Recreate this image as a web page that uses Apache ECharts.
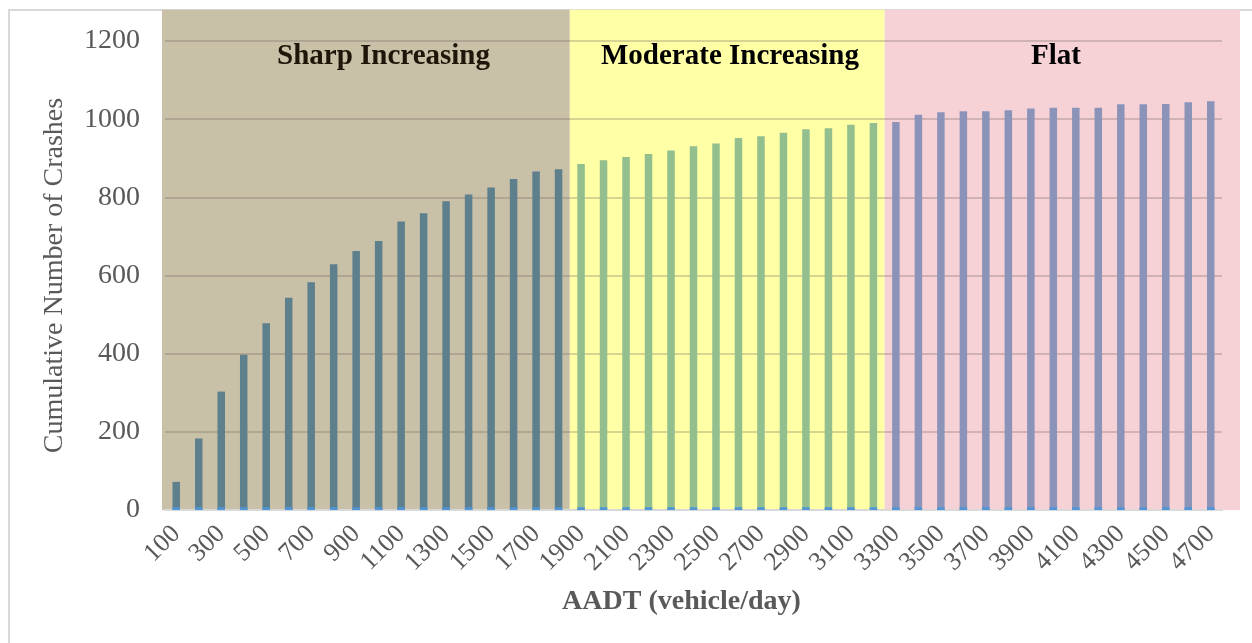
<!DOCTYPE html>
<html>
<head>
<meta charset="utf-8">
<script src="https://cdn.jsdelivr.net/npm/echarts@6/dist/echarts.min.js"></script>
<style>
  html, body { margin: 0; padding: 0; background: #fff; }
  #chart { width: 1252px; height: 643px; }
</style>
</head>
<body>
<div id="chart"></div>
<script>
const categories = ['100', '200', '300', '400', '500', '600', '700', '800', '900', '1000',
  '1100', '1200', '1300', '1400', '1500', '1600', '1700', '1800', '1900', '2000',
  '2100', '2200', '2300', '2400', '2500', '2600', '2700', '2800', '2900', '3000',
  '3100', '3200', '3300', '3400', '3500', '3600', '3700', '3800', '3900', '4000',
  '4100', '4200', '4300', '4400', '4500', '4600', '4700'];

const sharpValues = [72, 183, 303, 397, 478, 543, 583, 629, 663, 688, 738, 759, 790, 807, 825, 847, 866, 872];
const moderateValues = [885, 895, 903, 911, 920, 931, 938, 952, 956, 965, 974, 977, 986, 990];
const flatValues = [993, 1011, 1018, 1020, 1020, 1023, 1027, 1029, 1029, 1029, 1038, 1038, 1039, 1043, 1046];
// small blue stub visible at the foot of every bar
const baseStub = [7, 7, 7, 7, 7, 7, 7, 7, 7, 7, 7, 7, 7, 7, 7, 7, 7, 7, 7, 7, 7, 7, 7, 7,
  7, 7, 7, 7, 7, 7, 7, 7, 7, 7, 7, 7, 7, 7, 7, 7, 7, 7, 7, 7, 7, 7, 7];

const regionNames = ['Sharp Increasing', 'Moderate Increasing', 'Flat'];
const yTicks = [0, 200, 400, 600, 800, 1000, 1200];

const regionFill = ['#c9c0a8', '#ffffa6', '#f6d2d6'];
const barColors = ['#5e7f8c', '#93be8e', '#8c93b9'];

// region spans as category index ranges
const groups = [sharpValues, moderateValues, flatValues];
const regions = [];
let start = 0;
groups.forEach((g, i) => {
  regions.push([start, start + g.length - 1, i]);
  start += g.length;
});

function padded(i) {
  const out = categories.map(() => '-');
  const s = regions[i][0];
  groups[i].forEach((v, k) => { out[s + k] = v; });
  return out;
}

const chart = echarts.init(document.getElementById('chart'));

const option = {
  animation: false,
  textStyle: { fontFamily: 'Liberation Serif' },
  grid: { left: 165, right: 30, top: 41, bottom: 133 },
  graphic: [
    { type: 'rect', z: -10, shape: { x: 9, y: 10, width: 1270, height: 700 },
      style: { fill: 'none', stroke: '#d9d9d9', lineWidth: 2 } },
    { type: 'text', left: 277, top: 42, z: 10,
      style: { text: regionNames[0], font: 'bold 29px "Liberation Serif"', fill: '#1e1608' } },
    { type: 'text', left: 601, top: 42, z: 10,
      style: { text: regionNames[1], font: 'bold 29px "Liberation Serif"', fill: '#000' } },
    { type: 'text', left: 1031, top: 42, z: 10,
      style: { text: regionNames[2], font: 'bold 29px "Liberation Serif"', fill: '#000' } }
  ],
  xAxis: {
    type: 'category',
    data: categories,
    name: 'AADT (vehicle/day)',
    nameLocation: 'middle',
    nameGap: 78,
    nameTextStyle: { fontSize: 28, fontWeight: 'bold', color: '#595959', padding: [0, 24, 0, 0] },
    axisLine: { lineStyle: { color: '#d9d9d9', width: 2 } },
    axisTick: { show: false },
    axisLabel: { interval: 1, rotate: 45, fontSize: 26, color: '#595959', margin: 20 }
  },
  yAxis: {
    type: 'value',
    min: yTicks[0],
    max: yTicks[yTicks.length - 1],
    interval: 200,
    name: 'Cumulative Number of Crashes',
    nameLocation: 'middle',
    nameGap: 96,
    nameTextStyle: { fontSize: 28, color: '#595959' },
    axisLine: { show: false },
    axisTick: { show: false },
    axisLabel: { fontSize: 28, color: '#595959', margin: 25, formatter: v => String(v) },
    splitLine: { lineStyle: { color: 'rgba(110,98,88,0.28)', width: 2 } }
  },
  series: [
    {
      type: 'custom',
      z: -1,
      silent: true,
      data: regions,
      encode: { x: [0, 1] },
      renderItem: function (params, api) {
        const s = api.value(0), e = api.value(1), idx = api.value(2);
        const band = api.size([1, 0])[0];
        let x0 = api.coord([s, 0])[0] - band / 2;
        let x1 = api.coord([e, 0])[0] + band / 2;
        if (idx === 0) x0 -= 3;
        if (idx === regions.length - 1) x1 += 18;
        const yBottom = api.coord([s, 0])[1];
        const yTop = api.coord([s, 1280])[1];
        return {
          type: 'rect',
          shape: { x: x0, y: yTop, width: x1 - x0, height: yBottom - yTop },
          style: { fill: regionFill[idx] }
        };
      }
    },
    { name: regionNames[0], type: 'bar', stack: 'crash', barWidth: 7.5, data: padded(0),
      itemStyle: { color: barColors[0] } },
    { name: regionNames[1], type: 'bar', stack: 'crash', barWidth: 7.5, data: padded(1),
      itemStyle: { color: barColors[1] } },
    { name: regionNames[2], type: 'bar', stack: 'crash', barWidth: 7.5, data: padded(2),
      itemStyle: { color: barColors[2] } },
    { name: 'base', type: 'bar', barWidth: 7.5, barGap: '-100%', z: 3, data: baseStub,
      itemStyle: { color: '#4f95d8' } }
  ]
};

chart.setOption(option);
window.addEventListener('resize', () => chart.resize());
</script>
</body>
</html>
